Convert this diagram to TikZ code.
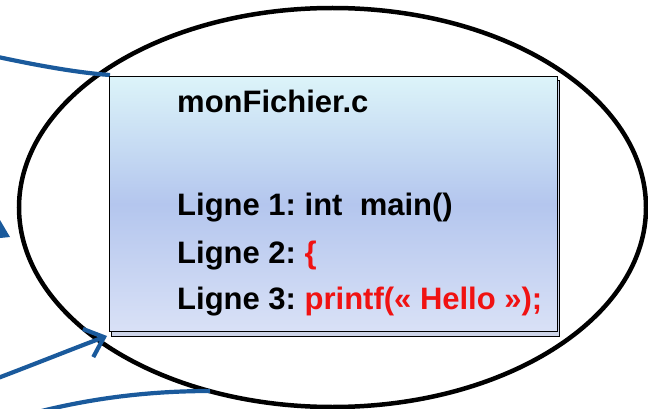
\documentclass[tikz,border=0pt]{standalone}
\usepackage{fontspec}
\setmainfont{Liberation Sans}
\usetikzlibrary{shapes.geometric,arrows.meta}
\definecolor{arrowblue}{RGB}{26,90,156}
\definecolor{codered}{RGB}{240,18,18}
\definecolor{topc}{RGB}{220,244,249}
\definecolor{midc}{RGB}{180,198,238}
\definecolor{botc}{RGB}{217,225,246}
\definecolor{shadowc}{RGB}{205,212,232}
\tikzset{
  bluecurve/.style={draw=arrowblue, line width=4.2},
  codetxt/.style={anchor=base west, inner sep=0, font=\fontsize{31}{36}\selectfont\bfseries\frenchspacing},
}
\begin{document}
\begin{tikzpicture}[x=1pt,y=-1pt]
\useasboundingbox (0,0) rectangle (648,409);
\fill[white] (0,0) rectangle (648,409);
\clip (0,0) rectangle (648,409);
% big ellipse
\node[draw, ellipse, line width=4.5, minimum width=627, minimum height=399, inner sep=0] (ell) at (332.5,207.5) {};
% named free ends
\coordinate (s1) at (-2,57);
\coordinate (s3) at (-2,378);
\coordinate (s4) at (30,414);
\coordinate (e4) at (210,391);
% shadow and file box
\node[draw, line width=1, fill=shadowc, minimum width=448, minimum height=256, anchor=north west, inner sep=0] (shadow) at (111,80) {};
% blue connectors
\draw[bluecurve] (s1) .. controls (40,66) and (80,73) .. (110,75);
\fill[arrowblue] (0,220) -- (10,237) -- (0,238) -- cycle;
\draw[bluecurve, -{Straight Barb[length=17, width=30]}] (s3) .. controls (40,362) and (80,346) .. (107,336);
\draw[bluecurve] (s4) .. controls (90,398) and (150,391) .. (e4);
\node[draw, line width=1.2, top color=topc, bottom color=botc, middle color=midc, minimum width=448, minimum height=255, anchor=north west, inner sep=0] (file) at (109,76) {};
% texts
\node[codetxt] (t0) at (177,113) {monFichier.c};
\node[codetxt] (t1) at (177,215) {Ligne 1: int\ \ main()};
\node[codetxt] (t2) at (177,263) {Ligne 2: \textcolor{codered}{\{}};
\node[codetxt] (t3) at (177,309) {Ligne 3: \textcolor{codered}{printf(« Hello »);}};
\end{tikzpicture}
\end{document}
